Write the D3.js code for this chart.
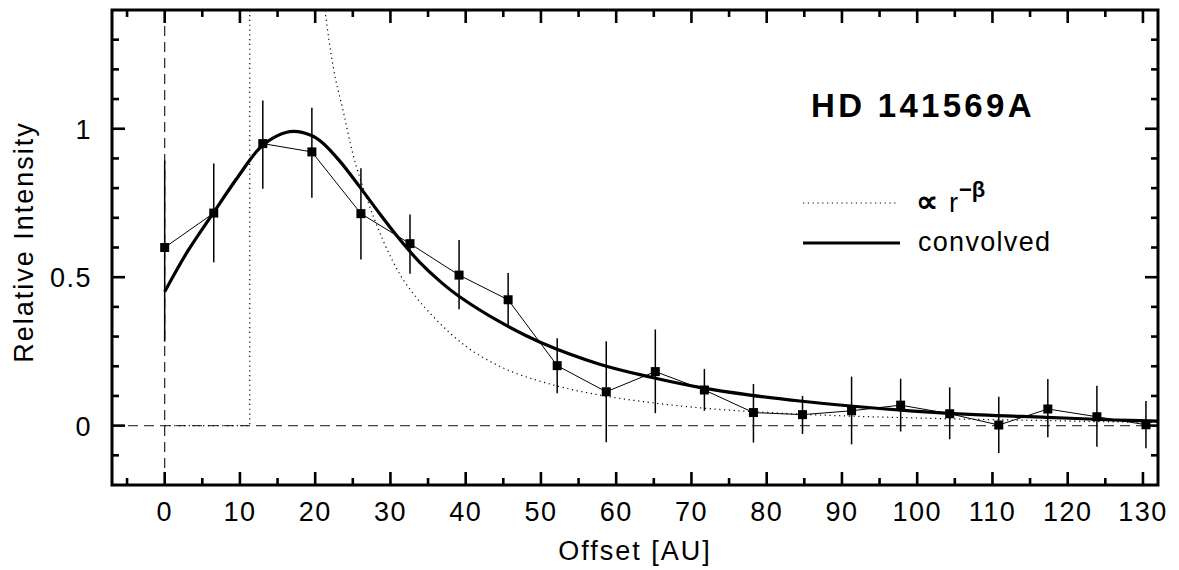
<!DOCTYPE html>
<html>
<head>
<meta charset="utf-8">
<script src="https://cdn.jsdelivr.net/npm/d3@7"></script>
<style>
  html, body { margin: 0; padding: 0; background: #fff; }
  svg { display: block; }
  text { font-family: "Liberation Sans", Arial, sans-serif; fill: #000; }
</style>
</head>
<body>
<svg id="chart" width="1179" height="570"></svg>
<script>
// ---------- data ----------
const offsetAU   = [0, 6.52, 13.04, 19.56, 26.08, 32.6, 39.12, 45.64, 52.16, 58.68, 65.2, 71.72, 78.24, 84.76, 91.28, 97.8, 104.32, 110.84, 117.36, 123.88, 130.4];
const intensity  = [0.600, 0.716, 0.950, 0.922, 0.714, 0.613, 0.507, 0.424, 0.202, 0.114, 0.182, 0.120, 0.044, 0.037, 0.050, 0.069, 0.040, 0.002, 0.056, 0.030, 0.003];
const errTop     = [0.893, 0.883, 1.095, 1.071, 0.867, 0.711, 0.625, 0.514, 0.294, 0.284, 0.324, 0.191, 0.140, 0.100, 0.165, 0.158, 0.129, 0.097, 0.157, 0.134, 0.083];
const errBottom  = [0.283, 0.550, 0.798, 0.768, 0.560, 0.512, 0.392, 0.335, 0.109, -0.056, 0.042, 0.050, -0.057, -0.028, -0.063, -0.020, -0.046, -0.092, -0.039, -0.071, -0.076];

const convX = [0, 3, 6.4, 9.5, 12.6, 15, 17.1, 19.5, 21, 23.3, 25.9, 28.6, 31.25, 33.9, 36.6, 39.2, 44.5, 49.9, 57.8, 64.5, 71.1, 77.8, 84.4, 91.1, 99.5, 108.4, 117.2, 126.1, 132];
const convY = [0.451, 0.585, 0.714, 0.830, 0.934, 0.977, 0.991, 0.977, 0.952, 0.890, 0.805, 0.713, 0.627, 0.550, 0.486, 0.434, 0.350, 0.281, 0.207, 0.164, 0.129, 0.103, 0.083, 0.066, 0.049, 0.036, 0.028, 0.019, 0.015];

// power law: inner step (zero inside the inner edge, then jump) followed by the r^-beta fall-off
const stepX = [0, 11.3, 11.3];
const stepY = [0, 0, 6];
const powX = [11.3, 21.3, 22.4, 23.7, 25.0, 26.8, 29.0, 31.25, 33.5, 35.7, 40.1, 44.5, 51.2, 57.8, 64.5, 71.1, 81.8, 90, 99.5, 108, 117.2, 125, 132];
const powY = [6, 1.40, 1.208, 1.062, 0.916, 0.770, 0.625, 0.510, 0.430, 0.367, 0.266, 0.200, 0.140, 0.103, 0.078, 0.060, 0.042, 0.033, 0.026, 0.021, 0.017, 0.013, 0.011];

const xMajorTicks = [0, 10, 20, 30, 40, 50, 60, 70, 80, 90, 100, 110, 120, 130];
const xMinorTicks = [-5, 5, 15, 25, 35, 45, 55, 65, 75, 85, 95, 105, 115, 125];
const yMajorTicks = [0, 0.5, 1];
const yMinorTicks = [-0.1, 0.1, 0.2, 0.3, 0.4, 0.6, 0.7, 0.8, 0.9, 1.1, 1.2, 1.3];
const yTickLabels = ["0", "0.5", "1"];

const titleText = "HD 141569A";
const xTitle = "Offset [AU]";
const yTitle = "Relative Intensity";
const legendLabels = ["\u221D", "convolved"];

// ---------- layout ----------
const svg = d3.select("#chart");
const L = 112, T = 10, R = 1158, B = 485;
const x = d3.scaleLinear().domain([-7, 132]).range([L, R]);
const y = d3.scaleLinear().domain([-0.2, 1.4]).range([B, T]);

svg.append("defs").append("clipPath").attr("id", "clip")
  .append("rect").attr("x", L).attr("y", T).attr("width", R - L).attr("height", B - T);

const plot = svg.append("g").attr("clip-path", "url(#clip)");

// reference dashed lines
plot.append("line")
  .attr("x1", x(0)).attr("x2", x(0)).attr("y1", T).attr("y2", B)
  .attr("stroke", "#222").attr("stroke-width", 1.2).attr("stroke-dasharray", "10,6");
plot.append("line")
  .attr("x1", L).attr("x2", R).attr("y1", y(0)).attr("y2", y(0))
  .attr("stroke", "#444").attr("stroke-width", 1.2).attr("stroke-dasharray", "10,6");

// power law (dotted)
const dotted = "1.2,3.6";
plot.append("path")
  .datum(stepX.map((d, i) => [d, stepY[i]]))
  .attr("fill", "none").attr("stroke", "#000").attr("stroke-width", 1.2)
  .attr("stroke-dasharray", dotted)
  .attr("d", d3.line().x(d => x(d[0])).y(d => y(d[1])));
plot.append("path")
  .datum(powX.map((d, i) => [d, powY[i]]))
  .attr("fill", "none").attr("stroke", "#000").attr("stroke-width", 1.2)
  .attr("stroke-dasharray", dotted)
  .attr("d", d3.line().curve(d3.curveMonotoneX).x(d => x(d[0])).y(d => y(d[1])));

// convolved (thick)
const convData = convX.map((d, i) => [d, convY[i]]);
plot.append("path")
  .datum(convData)
  .attr("fill", "none").attr("stroke", "#000").attr("stroke-width", 3.2)
  .attr("stroke-linejoin", "round")
  .attr("d", d3.line().curve(d3.curveCatmullRom.alpha(0.5)).x(d => x(d[0])).y(d => y(d[1])));

// data connecting line
const pts = offsetAU.map((d, i) => ({x: d, y: intensity[i], t: errTop[i], b: errBottom[i]}));
plot.append("path")
  .datum(pts)
  .attr("fill", "none").attr("stroke", "#000").attr("stroke-width", 1)
  .attr("d", d3.line().x(d => x(d.x)).y(d => y(d.y)));

// error bars
plot.selectAll("line.err").data(pts).enter().append("line")
  .attr("class", "err")
  .attr("x1", d => x(d.x)).attr("x2", d => x(d.x))
  .attr("y1", d => y(d.t)).attr("y2", d => y(d.b))
  .attr("stroke", "#000").attr("stroke-width", 1.5);

// markers
const ms = 9;
plot.selectAll("rect.pt").data(pts).enter().append("rect")
  .attr("class", "pt")
  .attr("x", d => x(d.x) - ms / 2).attr("y", d => y(d.y) - ms / 2)
  .attr("width", ms).attr("height", ms).attr("fill", "#000");

// ---------- axes (ticks inward on all four sides) ----------
const major = 13, minor = 7, tw = 2.6;
function tickSet(g, vals, len, orient) {
  vals.forEach(v => {
    if (orient === "bottom") g.append("line").attr("x1", x(v)).attr("x2", x(v)).attr("y1", B).attr("y2", B - len);
    if (orient === "top")    g.append("line").attr("x1", x(v)).attr("x2", x(v)).attr("y1", T).attr("y2", T + len);
    if (orient === "left")   g.append("line").attr("y1", y(v)).attr("y2", y(v)).attr("x1", L).attr("x2", L + len);
    if (orient === "right")  g.append("line").attr("y1", y(v)).attr("y2", y(v)).attr("x1", R).attr("x2", R - len);
  });
}
const tg = svg.append("g").attr("stroke", "#000").attr("stroke-width", tw);
["bottom", "top"].forEach(o => { tickSet(tg, xMajorTicks, major, o); tickSet(tg, xMinorTicks, minor, o); });
["left", "right"].forEach(o => { tickSet(tg, yMajorTicks, major, o); tickSet(tg, yMinorTicks, minor, o); });

svg.append("rect").attr("x", L).attr("y", T).attr("width", R - L).attr("height", B - T)
  .attr("fill", "none").attr("stroke", "#000").attr("stroke-width", 3);

// tick labels
svg.append("g").selectAll("text").data(xMajorTicks).enter().append("text")
  .attr("x", d => x(d)).attr("y", 521)
  .attr("text-anchor", "middle").attr("font-size", 27).attr("letter-spacing", 1.5)
  .text(d => d);
svg.append("g").selectAll("text").data(yMajorTicks).enter().append("text")
  .attr("x", 92).attr("y", d => y(d) + 10)
  .attr("text-anchor", "end").attr("font-size", 27).attr("letter-spacing", 1.5)
  .text((d, i) => yTickLabels[i]);

// axis titles
svg.append("text").attr("x", 635).attr("y", 560).attr("text-anchor", "middle")
  .attr("font-size", 27).attr("letter-spacing", 2).text(xTitle);
svg.append("text").attr("transform", "translate(33,242) rotate(-90)").attr("text-anchor", "middle")
  .attr("font-size", 27).attr("letter-spacing", 2).text(yTitle);

// title
svg.append("text").attr("x", 811).attr("y", 117).attr("font-size", 33).attr("font-weight", "bold")
  .attr("letter-spacing", 3.3).text(titleText);

// legend
svg.append("line").attr("x1", 803).attr("x2", 898).attr("y1", 203).attr("y2", 203)
  .attr("stroke", "#000").attr("stroke-width", 1.2).attr("stroke-dasharray", dotted);
svg.append("line").attr("x1", 803).attr("x2", 900).attr("y1", 243).attr("y2", 243)
  .attr("stroke", "#000").attr("stroke-width", 3.2);

const lt = svg.append("text").attr("x", 916).attr("y", 212).attr("font-size", 27);
lt.append("tspan").attr("font-weight", "bold").attr("font-size", 31).text(legendLabels[0]);
lt.append("tspan").attr("dx", 11).text("r");
lt.append("tspan").attr("dy", -15).attr("dx", 1).attr("font-size", 22).attr("font-weight", "bold").text("\u2212\u03B2");
svg.append("text").attr("x", 918).attr("y", 251).attr("font-size", 27).attr("letter-spacing", 1.3).text(legendLabels[1]);
</script>
</body>
</html>
